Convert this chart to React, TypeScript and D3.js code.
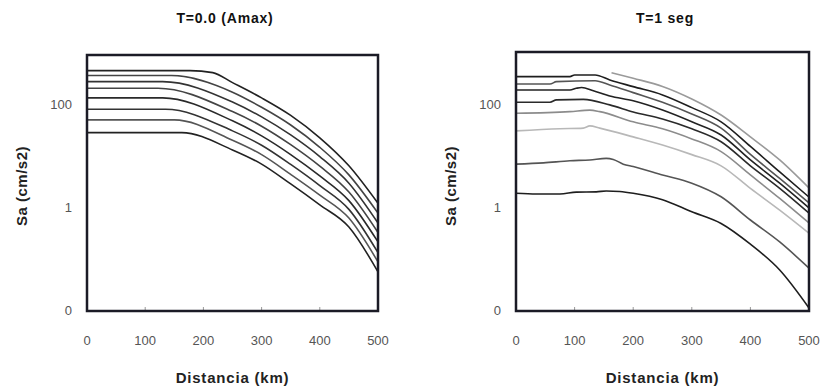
import React from "react";
import * as d3 from "d3";

// distances in km, Sa in cm/s2
const distTicks = [0, 100, 200, 300, 400, 500];
const saTicks = [0.01, 1, 100];
const saTickLabels = ["0", "1", "100"];

// T = 0.0 (Amax)
const amax1 = [[0, 443], [177, 443], [216, 405], [250, 259], [300, 131], [350, 60], [400, 22], [450, 6.3], [500, 1.18]];
const amax2 = [[0, 355], [145, 355], [250, 169], [300, 86], [350, 39], [400, 14.4], [450, 4.2], [500, 0.76]];
const amax3 = [[0, 271], [130, 271], [250, 109], [300, 56], [350, 25], [400, 9.5], [450, 2.9], [500, 0.49]];
const amax4 = [[0, 202], [122, 202], [250, 71], [300, 37], [350, 16.2], [400, 6.2], [450, 1.95], [500, 0.32]];
const amax5 = [[0, 131], [130, 131], [250, 47], [300, 24], [350, 10.4], [400, 4.0], [450, 1.33], [500, 0.21]];
const amax6 = [[0, 79], [135, 79], [250, 30], [300, 15.8], [350, 6.7], [400, 2.6], [450, 0.9], [500, 0.13]];
const amax7 = [[0, 49], [150, 49], [250, 19.7], [300, 10.4], [350, 4.3], [400, 1.7], [450, 0.61], [500, 0.086]];
const amax8 = [[0, 27.7], [163, 27.7], [250, 12.8], [300, 6.8], [350, 2.8], [400, 1.1], [450, 0.41], [500, 0.055]];

// T = 1 seg
const t1s0 = [[163, 405], [200, 315], [250, 219], [300, 125], [350, 61], [400, 23], [450, 8.2], [500, 2.34]];
const t1s1 = [[0, 339], [92, 339], [100, 366], [135, 366], [160, 293], [200, 217], [250, 150], [300, 85], [350, 45], [400, 15], [450, 4.8], [500, 1.56]];
const t1s2 = [[0, 244], [58, 244], [69, 271], [135, 283], [160, 234], [200, 166], [250, 108], [300, 64], [350, 34], [400, 10.5], [450, 3.6], [500, 1.2]];
const t1s3 = [[0, 187], [92, 187], [103, 202], [112, 209], [132, 180], [160, 143], [200, 115], [250, 76], [300, 45], [350, 25], [400, 8.2], [450, 2.9], [500, 0.96]];
const t1s4 = [[0, 108], [58, 108], [69, 120], [115, 123], [160, 96], [200, 70], [250, 51], [300, 33], [350, 18.5], [400, 6.3], [450, 2.3], [500, 0.76]];
const t1s5 = [[0, 66], [92, 71], [126, 76], [143, 71], [200, 45], [250, 33], [300, 21], [350, 11.9], [400, 4.2], [450, 1.47], [500, 0.49]];
const t1s6 = [[0, 30], [75, 33], [115, 34], [126, 37.5], [143, 34], [200, 23], [250, 16], [300, 10.4], [350, 6.3], [400, 2.3], [450, 0.87], [500, 0.31]];
const t1s7 = [[0, 6.8], [47, 7.2], [92, 7.9], [126, 8.2], [154, 8.8], [166, 8.4], [183, 6.8], [200, 6.1], [250, 4.2], [300, 2.9], [350, 1.58], [400, 0.56], [450, 0.21], [500, 0.065]];
const t1s8 = [[0, 1.85], [35, 1.79], [75, 1.79], [103, 1.95], [137, 1.97], [154, 2.05], [177, 2.0], [200, 1.85], [250, 1.39], [300, 0.81], [350, 0.48], [400, 0.19], [450, 0.06], [500, 0.011]];

const amaxSeries = [amax1, amax2, amax3, amax4, amax5, amax6, amax7, amax8];
const amaxColors = ["#222", "#444", "#333", "#444", "#2a2a2a", "#333", "#555", "#222"];
const t1Series = [t1s0, t1s1, t1s2, t1s3, t1s4, t1s5, t1s6, t1s7, t1s8];
const t1Colors = ["#9a9a9a", "#1e1e1e", "#555", "#222", "#2a2a2a", "#8c8c8c", "#b8b8b8", "#555", "#1e1e1e"];

const font = "'Liberation Sans', Arial, sans-serif";

function Panel({ title, series, colors, left, right, top, bottom, yMax, titleX }) {
  const x = d3.scaleLinear().domain([0, 500]).range([left, right]);
  const y = d3.scaleLog().domain([0.0096, yMax]).range([bottom, top]);
  const line = d3.line()
    .x(d => x(d[0]))
    .y(d => y(d[1]))
    .curve(d3.curveMonotoneX);
  const midX = (left + right) / 2;

  return (
    <g>
      <text x={titleX} y={23} textAnchor="middle" fontFamily={font} fontWeight="bold" fontSize={14} letterSpacing={0.8} fill="#111">{title}</text>

      {series.map((s, i) => (
        <path key={i} d={line(s)} fill="none" stroke={colors[i]} strokeWidth={1.6} />
      ))}

      {distTicks.slice(1, -1).map(t => (
        <line key={t} x1={x(t)} x2={x(t)} y1={bottom} y2={bottom - 4} stroke="#999" strokeWidth={1} />
      ))}

      <rect x={left} y={top} width={right - left} height={bottom - top} fill="none" stroke="#1b1b26" strokeWidth={2.5} />

      {saTicks.map((t, i) => (
        <text key={t} x={left - 15} y={y(t) + 5} textAnchor="end" fontFamily={font} fontSize={13} fill="#555">{saTickLabels[i]}</text>
      ))}
      {distTicks.map(t => (
        <text key={t} x={x(t)} y={345} textAnchor="middle" fontFamily={font} fontSize={13} fill="#555">{t}</text>
      ))}

      <text x={midX} y={383} textAnchor="middle" fontFamily={font} fontWeight="bold" fontSize={15} letterSpacing={0.8} fill="#222">Distancia (km)</text>
      <text transform={`translate(${left - 60},${186}) rotate(-90)`} textAnchor="middle" fontFamily={font} fontWeight="bold" fontSize={15} letterSpacing={0.5} fill="#222">Sa (cm/s2)</text>
    </g>
  );
}

export default function App() {
  return (
    <svg width={821} height={387} style={{ position: "absolute", left: 0, top: 0, background: "#fff" }}>
      <rect width={821} height={387} fill="#fff" />
      <Panel title="T=0.0 (Amax)" series={amaxSeries} colors={amaxColors}
        left={87} right={378} top={55} bottom={311} yMax={890} titleX={225} />
      <Panel title="T=1 seg" series={t1Series} colors={t1Colors}
        left={516} right={809} top={52} bottom={311} yMax={1020} titleX={665} />
    </svg>
  );
}
